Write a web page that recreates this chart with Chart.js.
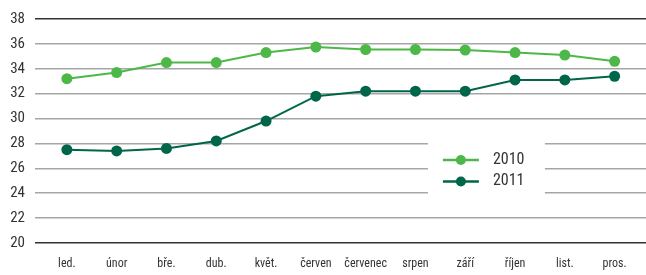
<!DOCTYPE html>
<html>
<head>
<meta charset="utf-8">
<script src="https://cdn.jsdelivr.net/npm/chart.js@4"></script>
<style>
  html, body { margin: 0; padding: 0; background: #fff; }
  #wrap { width: 646px; height: 275px; }
</style>
</head>
<body>
<div id="wrap"><canvas id="chart"></canvas></div>
<script>
const months = ['led.', 'únor', 'bře.', 'dub.', 'květ.', 'červen', 'červenec', 'srpen', 'září', 'říjen', 'list.', 'pros.'];
const values2010 = [33.2, 33.7, 34.5, 34.5, 35.3, 35.75, 35.55, 35.55, 35.5, 35.3, 35.1, 34.6];
const values2011 = [27.5, 27.4, 27.6, 28.2, 29.8, 31.8, 32.2, 32.2, 32.2, 33.1, 33.1, 33.4];
const yTicks = [20, 22, 24, 26, 28, 30, 32, 34, 36, 38];

const FONT = '"Roboto Condensed", "DejaVu Sans Condensed", sans-serif';

// legend drawn inside the plot on a white box
const boxLegend = {
    id: 'boxLegend',
    afterDraw(chart) {
        const ctx = chart.ctx;
        const x = chart.scales.x, y = chart.scales.y;
        const left = x.getPixelForValue(7.25), right = x.getPixelForValue(9.6);
        const top = y.getPixelForValue(28.6), bottom = y.getPixelForValue(23.4);
        ctx.save();
        ctx.fillStyle = '#fff';
        ctx.fillRect(left, top, right - left, bottom - top);
        chart.data.datasets.forEach((ds, i) => {
            const cy = top + 24 + i * 21.5;
            const lx = left + 15;
            ctx.strokeStyle = ds.borderColor;
            ctx.lineWidth = 2.5;
            ctx.beginPath();
            ctx.moveTo(lx, cy);
            ctx.lineTo(lx + 36, cy);
            ctx.stroke();
            ctx.fillStyle = ds.borderColor;
            ctx.beginPath();
            ctx.arc(lx + 18, cy, 5, 0, Math.PI * 2);
            ctx.fill();
            ctx.fillStyle = '#333';
            ctx.font = '16px ' + FONT;
            ctx.textBaseline = 'middle';
            ctx.fillText(ds.label, lx + 50, cy);
        });
        ctx.restore();
    }
};

const toPoints = arr => arr.map((v, i) => ({ x: i, y: v }));

new Chart(document.getElementById('chart'), {
    type: 'line',
    data: {
        datasets: [{
            label: '2010',
            data: toPoints(values2010),
            borderColor: '#4db848',
            backgroundColor: '#4db848',
            borderWidth: 2,
            pointRadius: 5.5,
            pointBorderWidth: 0,
        }, {
            label: '2011',
            data: toPoints(values2011),
            borderColor: '#00664a',
            backgroundColor: '#00664a',
            borderWidth: 2,
            pointRadius: 5.5,
            pointBorderWidth: 0,
        }]
    },
    options: {
        responsive: true,
        maintainAspectRatio: false,
        animation: false,
        layout: { autoPadding: false, padding: { top: 17, right: 0, left: 0, bottom: 0 } },
        plugins: {
            legend: { display: false },
            tooltip: { enabled: false }
        },
        scales: {
            x: {
                type: 'linear',
                min: -0.64,
                max: 11.63,
                afterBuildTicks: axis => { axis.ticks = months.map((m, i) => ({ value: i })); },
                afterFit: axis => { axis.height = 32; axis.paddingLeft = 0; axis.paddingRight = 0; },
                grid: { display: false, drawTicks: false },
                border: { display: false },
                ticks: {
                    callback: v => months[v],
                    color: '#333',
                    font: { family: FONT, size: 12 },
                    padding: 14,
                    maxRotation: 0,
                    autoSkip: false
                }
            },
            y: {
                min: 20,
                max: 38,
                afterBuildTicks: axis => { axis.ticks = yTicks.map(v => ({ value: v })); },
                afterFit: axis => { axis.width = 35; },
                border: { display: false },
                grid: {
                    drawTicks: false,
                    lineWidth: 1.5,
                    color: ctx => (ctx.tick && (ctx.tick.value === 20 || ctx.tick.value === 38)) ? '#333' : '#a6a6a6'
                },
                ticks: {
                    color: '#333',
                    font: { family: FONT, size: 15 },
                    padding: 10
                }
            }
        }
    },
    plugins: [boxLegend]
});
</script>
</body>
</html>
